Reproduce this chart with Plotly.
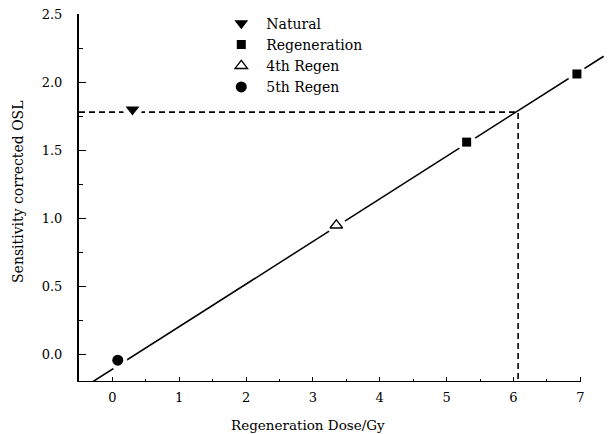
import plotly.graph_objects as go

# ---- data ----
natural_dose = [0.30]
natural_osl = [1.80]
regen_dose = [5.30, 6.95]
regen_osl = [1.56, 2.06]
regen4_dose = [3.35]
regen4_osl = [0.95]
regen5_dose = [0.08]
regen5_osl = [-0.04]
fit_dose = [-0.30, 7.35]
fit_osl = [-0.20, 2.19]
equiv_dose = 6.07
natural_level = 1.78
x_range = [-0.5, 7.4]
y_range = [-0.2, 2.5]
x_axis_end = 7.0

FONT = "DejaVu Serif"

fig = go.Figure()

# fitted growth curve
fig.add_trace(go.Scatter(x=fit_dose, y=fit_osl, mode="lines",
                         line=dict(color="black", width=1.5),
                         showlegend=False, hoverinfo="skip"))

# dashed projection of the natural signal onto the curve
fig.add_trace(go.Scatter(x=[x_range[0], equiv_dose, equiv_dose],
                         y=[natural_level, natural_level, y_range[0]],
                         mode="lines",
                         line=dict(color="black", width=1.6, dash="6px,4px"),
                         showlegend=False, hoverinfo="skip"))

# white halos behind markers (gaps in the lines)
halo_x = natural_dose + regen_dose + regen4_dose + regen5_dose
halo_y = natural_osl + regen_osl + regen4_osl + regen5_osl
fig.add_trace(go.Scatter(x=halo_x, y=halo_y, mode="markers",
                         marker=dict(symbol="circle", size=19, color="white"),
                         showlegend=False, hoverinfo="skip"))

fig.add_trace(go.Scatter(x=natural_dose, y=natural_osl, mode="markers",
                         name="Natural",
                         marker=dict(symbol="triangle-down", size=12, color="black")))
fig.add_trace(go.Scatter(x=regen_dose, y=regen_osl, mode="markers",
                         name="Regeneration",
                         marker=dict(symbol="square", size=9, color="black")))
fig.add_trace(go.Scatter(x=regen4_dose, y=regen4_osl, mode="markers",
                         name="4th Regen",
                         marker=dict(symbol="triangle-up", size=11, color="white",
                                     line=dict(color="black", width=1.3))))
fig.add_trace(go.Scatter(x=regen5_dose, y=regen5_osl, mode="markers",
                         name="5th Regen",
                         marker=dict(symbol="circle", size=11, color="black")))

fig.update_layout(
    width=614, height=434,
    margin=dict(l=79, r=7, t=14, b=52),
    paper_bgcolor="white", plot_bgcolor="white",
    font=dict(family=FONT, color="black", size=13),
    legend=dict(x=0.26, y=1.017, xanchor="left", yanchor="top",
                bgcolor="rgba(0,0,0,0)", font=dict(family=FONT, size=14),
                itemwidth=40, tracegroupgap=0),
    xaxis=dict(range=x_range, dtick=1, tick0=0, showgrid=False, zeroline=False,
               showline=False, ticks="inside", ticklen=5, tickwidth=1.3,
               tickcolor="black", ticklabelstandoff=6,
               tickfont=dict(family=FONT, size=13),
               minor=dict(dtick=0.5, tick0=0, ticks="inside", ticklen=3,
                          tickwidth=1.2, tickcolor="black")),
    yaxis=dict(range=y_range, dtick=0.5, tick0=0, tickformat=".1f",
               showgrid=False, zeroline=False, showline=True, linewidth=2,
               linecolor="black", ticks="inside", ticklen=7, tickwidth=1.3,
               tickcolor="black", ticklabelstandoff=12,
               tickfont=dict(family=FONT, size=13),
               minor=dict(dtick=0.25, tick0=0, ticks="inside", ticklen=4,
                          tickwidth=1.2, tickcolor="black")),
    shapes=[dict(type="line", xref="x", yref="y",
                 x0=x_range[0], x1=x_axis_end, y0=y_range[0], y1=y_range[0],
                 line=dict(color="black", width=2))],
    annotations=[
        dict(text="Regeneration Dose/Gy", xref="paper", yref="paper",
             x=(307.5 - 79) / 528, y=-(425 - 382) / 368, showarrow=False,
             xanchor="center", yanchor="middle", font=dict(family=FONT, size=13.5)),
        dict(text="Sensitivity corrected OSL", xref="paper", yref="paper",
             x=(18 - 79) / 528, y=(382 - 192) / 368, showarrow=False, textangle=-90,
             xanchor="center", yanchor="middle", font=dict(family=FONT, size=14)),
    ],
)

fig.write_html("out.html", post_script="document.body.style.margin='0';",
               config={"displayModeBar": False})
